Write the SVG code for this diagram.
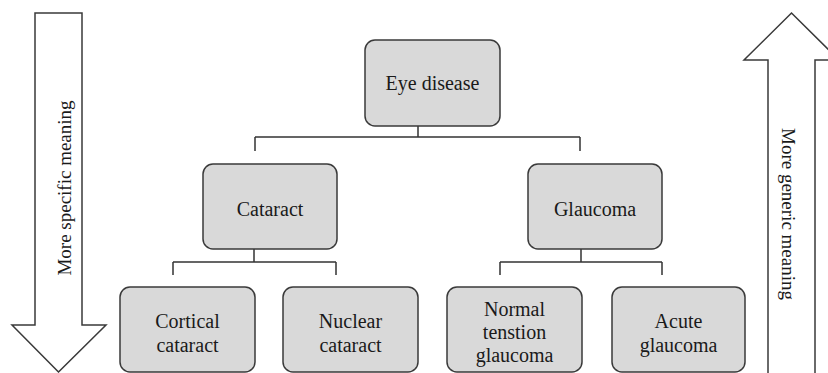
<svg xmlns="http://www.w3.org/2000/svg" width="828" height="373" viewBox="0 0 828 373">
<style>
.box{fill:#d9d9d9;stroke:#3a3a3a;stroke-width:1.5}
.lbl{font-family:"Liberation Serif","Times New Roman",serif;font-size:20px;fill:#1a1a1a;text-anchor:middle}
.arr{fill:#ffffff;stroke:#3a3a3a;stroke-width:1.5;stroke-linejoin:miter}
.atxt{font-family:"Liberation Serif","Times New Roman",serif;font-size:19px;fill:#1a1a1a;text-anchor:middle}
.con{fill:none;stroke:#333333;stroke-width:1.5}
</style>
<rect width="828" height="373" fill="#ffffff"/>
<g id="arrow-specific">
<polygon class="arr" points="35,13 82,13 82,325 106,325 58.5,372 12,325 35,325"/>
<text class="atxt" transform="translate(71,188) rotate(-90)">More specific meaning</text>
</g>
<g id="arrow-generic">
<polygon class="arr" points="768,385 768,60 744,60 791.5,13 839,60 815,60 815,385"/>
<text class="atxt" transform="translate(782,214) rotate(90)">More generic meaning</text>
</g>
<g id="connectors">
<path class="con" d="M418,126 V137 M255,137 H580 M255,137 V151 M580,137 V151"/>
<path class="con" d="M254,249 V262 M173,262 H336 M173,262 V275 M336,262 V275"/>
<path class="con" d="M581,249 V262 M500,262 H662 M500,262 V275 M662,262 V275"/>
</g>
<g id="eye-disease">
<rect class="box" x="365" y="40" width="135" height="86" rx="10"/>
<text class="lbl" x="432.5" y="90">Eye disease</text>
</g>
<g id="cataract">
<rect class="box" x="203" y="164" width="134" height="85" rx="10"/>
<text class="lbl" x="270" y="216">Cataract</text>
</g>
<g id="glaucoma">
<rect class="box" x="528" y="164" width="134" height="85" rx="10"/>
<text class="lbl" x="595" y="216">Glaucoma</text>
</g>
<g id="cortical-cataract">
<rect class="box" x="120" y="287" width="135" height="85" rx="10"/>
<text class="lbl" x="187.5" y="328">Cortical</text>
<text class="lbl" x="187.5" y="352">cataract</text>
</g>
<g id="nuclear-cataract">
<rect class="box" x="283" y="287" width="135" height="85" rx="10"/>
<text class="lbl" x="350.5" y="328">Nuclear</text>
<text class="lbl" x="350.5" y="352">cataract</text>
</g>
<g id="normal-tension-glaucoma">
<rect class="box" x="447" y="287" width="135" height="85" rx="10"/>
<text class="lbl" x="514.5" y="316">Normal</text>
<text class="lbl" x="514.5" y="339">tenstion</text>
<text class="lbl" x="514.5" y="362">glaucoma</text>
</g>
<g id="acute-glaucoma">
<rect class="box" x="612" y="287" width="133" height="85" rx="10"/>
<text class="lbl" x="678.5" y="328">Acute</text>
<text class="lbl" x="678.5" y="352">glaucoma</text>
</g>
</svg>
